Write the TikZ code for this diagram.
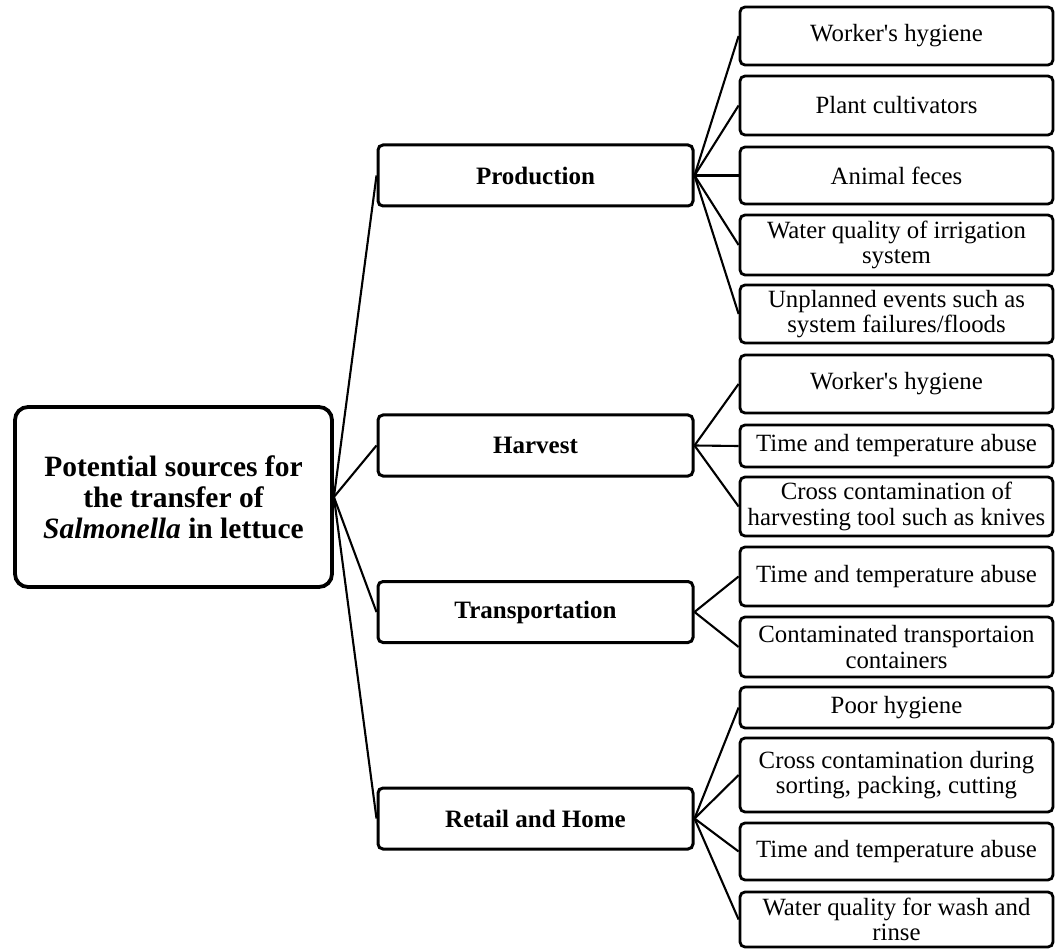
\documentclass[tikz,border=0pt]{standalone}
\usepackage{fontspec}
\setmainfont{Liberation Serif}[Ligatures=TeXOff]
\begin{document}
\begin{tikzpicture}[x=1pt,y=-1pt,
  rootbox/.style={draw, line width=3.8pt, rounded corners=13pt, inner sep=0pt,
    minimum width=317pt, minimum height=180pt, align=center,
    font=\fontsize{29.5}{30.8}\selectfont\bfseries},
  midbox/.style={draw, line width=3pt, rounded corners=5pt, inner sep=0pt,
    minimum width=315pt, minimum height=61pt, align=center,
    font=\fontsize{25}{26}\selectfont\bfseries},
  leafbox/.style={draw, line width=2.8pt, rounded corners=5pt, inner sep=0pt,
    minimum width=313pt, align=center,
    font=\fontsize{24.8}{25.5}\selectfont},
  link/.style={line width=2.1pt}]
\useasboundingbox (0,0) rectangle (1055,949);

\node[rootbox] (root) at (173.5,497) {Potential sources for\\the transfer of\\\textit{Salmonella} in lettuce};

\node[midbox] (prod) at (535.5,175.5) {Production};
\node[midbox] (harv) at (535.5,445.5) {Harvest};
\node[midbox] (trans) at (535.5,612) {Transportation};
\node[midbox] (retail) at (535.5,818.5) {Retail and Home};

\node[leafbox, minimum height=58pt] (l1) at (896.5,36) {Worker's hygiene};
\node[leafbox, minimum height=59pt] (l2) at (896.5,105.5) {Plant cultivators};
\node[leafbox, minimum height=57pt] (l3) at (896.5,175.5) {Animal feces};
\node[leafbox, minimum height=60pt] (l4) at (896.5,245) {Water quality of irrigation\\system};
\node[leafbox, minimum height=58pt] (l5) at (896.5,314) {Unplanned events such as\\system failures/floods};
\node[leafbox, minimum height=58pt] (l6) at (896.5,384) {Worker's hygiene};
\node[leafbox, minimum height=42pt] (l7) at (896.5,446) {Time and temperature abuse};
\node[leafbox, minimum height=59pt] (l8) at (896.5,506.5) {Cross contamination of\\harvesting tool such as knives};
\node[leafbox, minimum height=59pt] (l9) at (896.5,576.5) {Time and temperature abuse};
\node[leafbox, minimum height=60pt] (l10) at (896.5,647) {Contaminated transportaion\\containers};
\node[leafbox, minimum height=41pt] (l11) at (896.5,707.5) {Poor hygiene};
\node[leafbox, minimum height=74pt] (l12) at (896.5,775) {Cross contamination during\\sorting, packing, cutting};
\node[leafbox, minimum height=57pt] (l13) at (896.5,851.5) {Time and temperature abuse};
\node[leafbox, minimum height=55pt] (l14) at (896.5,919.5) {Water quality for wash and\\rinse};

\foreach \m in {prod,harv,trans,retail}
  \draw[link] (root.east) -- (\m.west);
\foreach \l in {l1,l2,l3,l4,l5}
  \draw[link] (prod.east) -- (\l.west);
\foreach \l in {l6,l7,l8}
  \draw[link] (harv.east) -- (\l.west);
\foreach \l in {l9,l10}
  \draw[link] (trans.east) -- (\l.west);
\foreach \l in {l11,l12,l13,l14}
  \draw[link] (retail.east) -- (\l.west);
\end{tikzpicture}
\end{document}
